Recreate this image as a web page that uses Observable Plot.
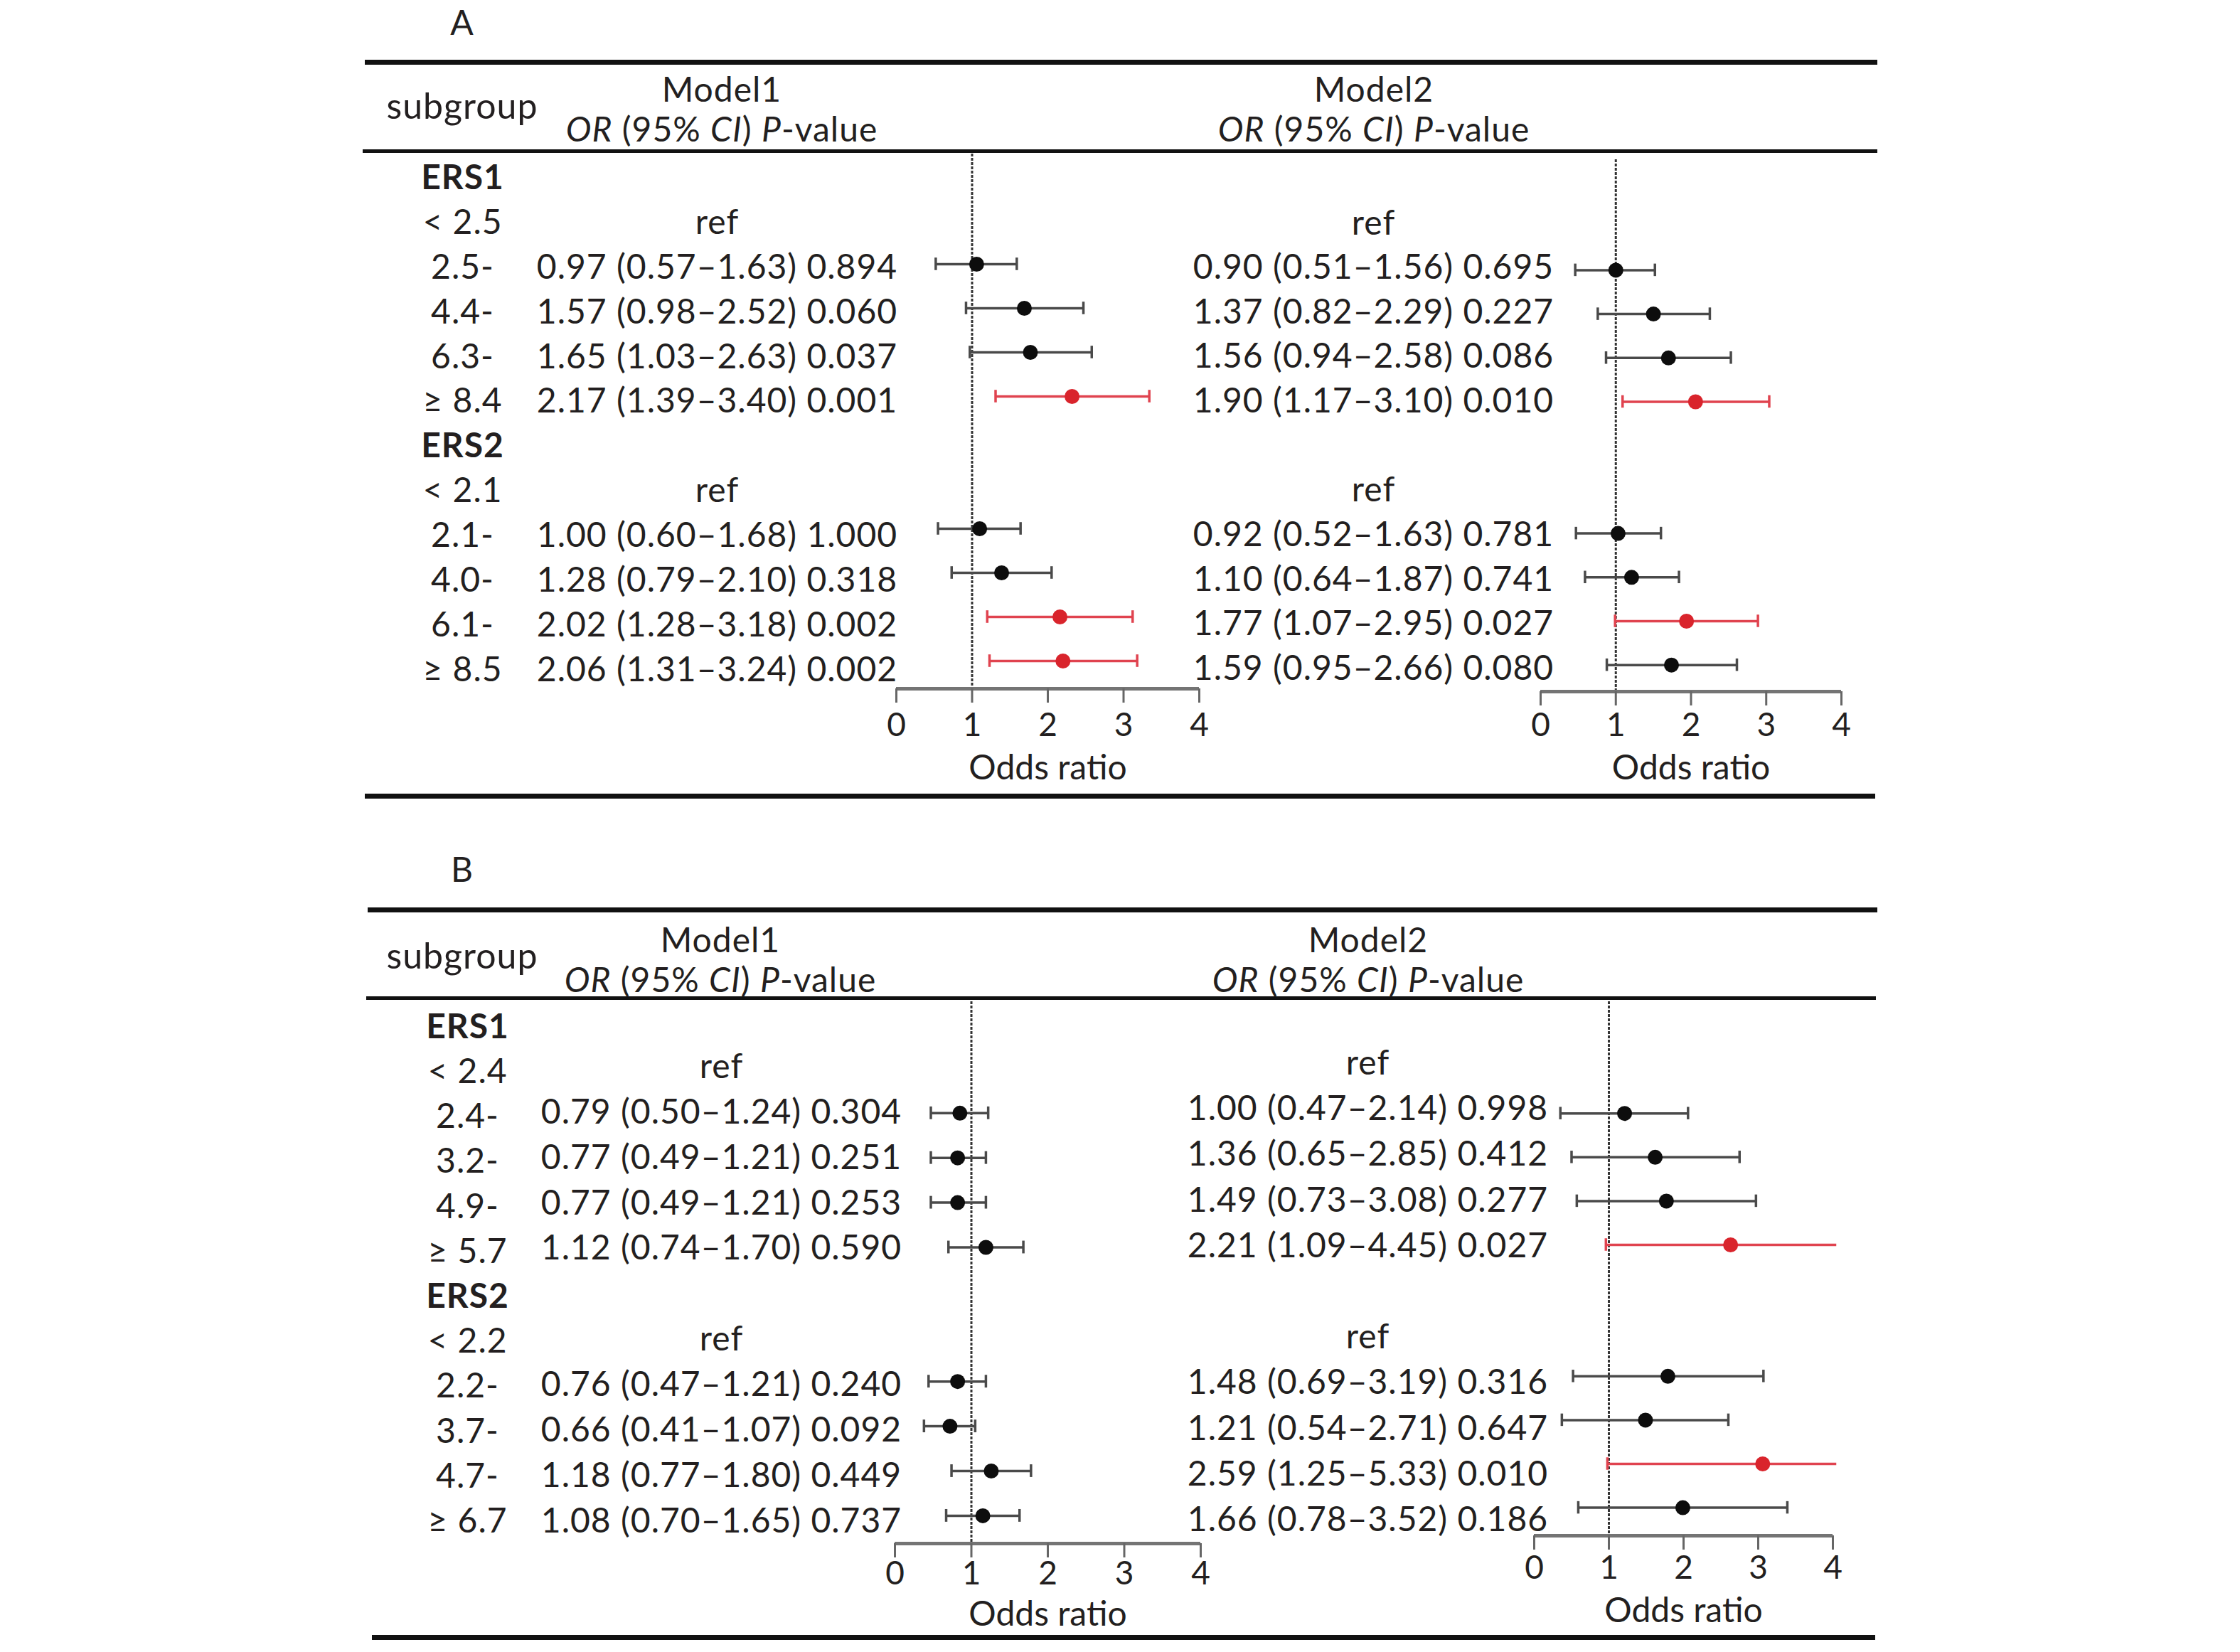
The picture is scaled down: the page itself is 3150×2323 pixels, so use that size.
<!DOCTYPE html>
<html><head><meta charset="utf-8">
<script src="https://cdn.jsdelivr.net/npm/d3@7"></script>
<script src="https://cdn.jsdelivr.net/npm/@observablehq/plot@0.6"></script>
<style>
html,body{margin:0;padding:0;background:#fff;}
#fig{position:relative;width:3150px;height:2323px;background:#fff;font-family:Lato,"Open Sans",sans-serif;color:#231f20;overflow:hidden;}
#fig svg{position:absolute;left:0;top:0;}
.t{position:absolute;transform:translate(-50%,-50%);white-space:nowrap;line-height:1.2;letter-spacing:1px;}
.rule{position:absolute;background:#111;}
</style></head><body><div id="fig"></div>
<script>
// ---------- data ----------
const subgroupsA = ["ERS1","< 2.5","2.5-","4.4-","6.3-","≥ 8.4","ERS2","< 2.1","2.1-","4.0-","6.1-","≥ 8.5"];
const subgroupsB = ["ERS1","< 2.4","2.4-","3.2-","4.9-","≥ 5.7","ERS2","< 2.2","2.2-","3.7-","4.7-","≥ 6.7"];
const headerRows = [0, 6];
const refRows = [1, 7];
const estRows = [2, 3, 4, 5, 8, 9, 10, 11];

// reported OR (95% CI) P-value
const a1OR = [0.97, 1.57, 1.65, 2.17, 1.00, 1.28, 2.02, 2.06];
const a1Lo = [0.57, 0.98, 1.03, 1.39, 0.60, 0.79, 1.28, 1.31];
const a1Hi = [1.63, 2.52, 2.63, 3.40, 1.68, 2.10, 3.18, 3.24];
const a1P  = [0.894, 0.060, 0.037, 0.001, 1.000, 0.318, 0.002, 0.002];
const a2OR = [0.90, 1.37, 1.56, 1.90, 0.92, 1.10, 1.77, 1.59];
const a2Lo = [0.51, 0.82, 0.94, 1.17, 0.52, 0.64, 1.07, 0.95];
const a2Hi = [1.56, 2.29, 2.58, 3.10, 1.63, 1.87, 2.95, 2.66];
const a2P  = [0.695, 0.227, 0.086, 0.010, 0.781, 0.741, 0.027, 0.080];
const b1OR = [0.79, 0.77, 0.77, 1.12, 0.76, 0.66, 1.18, 1.08];
const b1Lo = [0.50, 0.49, 0.49, 0.74, 0.47, 0.41, 0.77, 0.70];
const b1Hi = [1.24, 1.21, 1.21, 1.70, 1.21, 1.07, 1.80, 1.65];
const b1P  = [0.304, 0.251, 0.253, 0.590, 0.240, 0.092, 0.449, 0.737];
const b2OR = [1.00, 1.36, 1.49, 2.21, 1.48, 1.21, 2.59, 1.66];
const b2Lo = [0.47, 0.65, 0.73, 1.09, 0.69, 0.54, 1.25, 0.78];
const b2Hi = [2.14, 2.85, 3.08, 4.45, 3.19, 2.71, 5.33, 3.52];
const b2P  = [0.998, 0.412, 0.277, 0.027, 0.316, 0.647, 0.010, 0.186];

// positions of the plotted markers
const a1Est = [1.06, 1.69, 1.77, 2.32, 1.10, 1.39, 2.16, 2.20];
const a1L   = [0.52, 0.92, 0.97, 1.31, 0.55, 0.73, 1.20, 1.23];
const a1H   = [1.59, 2.47, 2.58, 3.34, 1.64, 2.05, 3.12, 3.18];
const a2Est = [1.00, 1.50, 1.70, 2.06, 1.03, 1.21, 1.94, 1.74];
const a2L   = [0.46, 0.76, 0.87, 1.09, 0.47, 0.59, 0.99, 0.88];
const a2H   = [1.52, 2.25, 2.53, 3.04, 1.60, 1.84, 2.89, 2.61];
const b1Est = [0.85, 0.82, 0.82, 1.19, 0.82, 0.72, 1.26, 1.15];
const b1L   = [0.47, 0.47, 0.47, 0.70, 0.44, 0.38, 0.74, 0.67];
const b1H   = [1.22, 1.19, 1.19, 1.68, 1.19, 1.05, 1.78, 1.63];
const b2Est = [1.21, 1.62, 1.77, 2.63, 1.79, 1.49, 3.06, 1.99];
const b2L   = [0.35, 0.50, 0.57, 0.96, 0.52, 0.37, 0.98, 0.59];
const b2H   = [2.06, 2.75, 2.97, 4.05, 3.07, 2.60, 4.05, 3.39];
// highlighted (red) rows
const a1Red = [0, 0, 0, 1, 0, 0, 1, 1];
const a2Red = [0, 0, 0, 1, 0, 0, 1, 0];
const b1Red = [0, 0, 0, 0, 0, 0, 0, 0];
const b2Red = [0, 0, 0, 1, 0, 0, 1, 0];

const xTicks = [0, 1, 2, 3, 4];

// ---------- helpers ----------
const W = 3150, H = 2323;
const FONT = "Lato, 'Open Sans', sans-serif";
const INK = "#231f20";
const fig = document.getElementById("fig");
const f2 = d3.format(".2f"), f3 = d3.format(".3f");

function label(html, x, y, size, extra = "") {
  const d = document.createElement("div");
  d.className = "t";
  d.style.cssText = `left:${x}px;top:${y}px;font-size:${size}px;${extra}`;
  d.innerHTML = html;
  fig.appendChild(d);
}
function hrule(x1, x2, y, t) {
  const d = document.createElement("div");
  d.className = "rule";
  d.style.cssText = `left:${x1}px;top:${y - t / 2}px;width:${x2 - x1}px;height:${t}px;`;
  fig.appendChild(d);
}
const orHeader = "<i>OR</i> (95% <i>CI</i>) <i>P</i>-value";

// one text column of the table, centred on `center`, rows placed by a linear row scale
function column(rows, center, yRange) {
  const half = 330;
  const svg = Plot.plot({
    width: W, height: H,
    marginLeft: center - half, marginRight: W - center - half, marginTop: 0, marginBottom: 0,
    y: {domain: [0, 11], range: yRange, axis: null},
    style: {background: "transparent", fontFamily: FONT, color: INK, overflow: "visible", letterSpacing: "1px"},
    marks: [
      Plot.text(rows.filter(d => !d.bold), {y: "row", text: "text", frameAnchor: "middle", lineAnchor: "middle", fontSize: 48, fill: INK}),
      Plot.text(rows.filter(d => d.bold), {y: "row", text: "text", frameAnchor: "middle", lineAnchor: "middle", fontSize: 48, fontWeight: "bold", fill: INK})
    ]
  });
  fig.appendChild(svg);
}
function subgroupRows(subgroups) {
  return subgroups.map((s, i) => ({row: i, text: s, bold: headerRows.includes(i)}));
}
function modelRows(or, lo, hi, p) {
  const rows = refRows.map(r => ({row: r, text: "ref", bold: false}));
  estRows.forEach((r, i) => rows.push({row: r, bold: false,
    text: `${f2(or[i])} (${f2(lo[i])}–${f2(hi[i])}) ${f3(p[i])}`}));
  return rows;
}

function forest(est, lo, hi, red, cfg) {
  const data = estRows.map((r, i) => ({row: r, est: est[i], lo: lo[i], hi: hi[i], red: !!red[i]}));
  const rowEnd = cfg.row0 + 11 * cfg.step;
  const axisRow = 11 * (cfg.axisY - cfg.row0) / (rowEnd - cfg.row0);
  const cap = 0.142;
  const GRAY = "#4a4a4a", RED = "#e0434f", DOTRED = "#d9242c";
  const black = data.filter(d => !d.red), reds = data.filter(d => d.red);
  const svg = Plot.plot({
    width: W, height: H,
    marginLeft: cfg.x0, marginRight: W - cfg.x4, marginTop: cfg.top, marginBottom: H - cfg.axisY,
    x: {domain: [0, 4]},
    y: {domain: [0, 11], range: [cfg.row0, rowEnd], axis: null},
    style: {background: "transparent", fontFamily: FONT, color: INK, overflow: "visible"},
    marks: [
      Plot.ruleX([1], {stroke: "#333", strokeWidth: 3, strokeDasharray: "4 2"}),
      Plot.ruleY([axisRow], {x1: 0, x2: 4, stroke: "#747474", strokeWidth: 5}),
      Plot.axisX({ticks: xTicks, tickFormat: d => String(d), tickSize: 20, tickPadding: cfg.pad,
        stroke: "#666", strokeWidth: 3, fill: INK, fontSize: 46, label: null}),
      Plot.text(["Odds ratio"], {x: () => 2, text: d => d, frameAnchor: "bottom", lineAnchor: "middle",
        dy: cfg.lab, fontSize: 48, fill: INK, style: "letter-spacing:1px"}),
      // error bars
      Plot.ruleY(black, {y: "row", x1: "lo", x2: "hi", stroke: GRAY, strokeWidth: 3.5}),
      Plot.ruleY(reds, {y: "row", x1: "lo", x2: "hi", stroke: RED, strokeWidth: 3.5}),
      Plot.ruleX(black, {x: "lo", y1: d => d.row - cap, y2: d => d.row + cap, stroke: GRAY, strokeWidth: 3.5}),
      Plot.ruleX(reds, {x: "lo", y1: d => d.row - cap, y2: d => d.row + cap, stroke: RED, strokeWidth: 3.5}),
      Plot.ruleX(black.filter(d => d.hi <= 4), {x: "hi", y1: d => d.row - cap, y2: d => d.row + cap, stroke: GRAY, strokeWidth: 3.5}),
      Plot.ruleX(reds.filter(d => d.hi <= 4), {x: "hi", y1: d => d.row - cap, y2: d => d.row + cap, stroke: RED, strokeWidth: 3.5}),
      // point estimates
      Plot.dot(black, {x: "est", y: "row", r: 10.5, fill: "#0d0d0d", stroke: "none"}),
      Plot.dot(reds, {x: "est", y: "row", r: 10.5, fill: DOTRED, stroke: "none"})
    ]
  });
  fig.appendChild(svg);
}

// ---------- panel A ----------
hrule(513, 2640, 87, 7);
hrule(510, 2640, 212, 5);
hrule(513, 2637, 1119, 7);
label("A", 650, 31, 48);
label("subgroup", 650, 148, 50);
label("Model1", 1015, 125, 48);
label(orHeader, 1015, 181, 48);
label("Model2", 1932, 125, 48);
label(orHeader, 1932, 181, 48);
column(subgroupRows(subgroupsA), 650, [250, 942]);
column(modelRows(a1OR, a1Lo, a1Hi, a1P), 1008, [250, 942]);
column(modelRows(a2OR, a2Lo, a2Hi, a2P), 1931, [251, 940]);
forest(a1Est, a1L, a1H, a1Red, {x0: 1260, x4: 1686, top: 216, axisY: 968, row0: 247, step: 62, pad: 14, lab: 112});
forest(a2Est, a2L, a2H, a2Red, {x0: 2166, x4: 2589, top: 224, axisY: 972, row0: 256, step: 61.7, pad: 10, lab: 108});

// ---------- panel B ----------
hrule(517, 2640, 1279, 7);
hrule(515, 2638, 1403, 5);
hrule(523, 2637, 2302, 7);
label("B", 650, 1222, 48);
label("subgroup", 650, 1343, 50);
label("Model1", 1013, 1321, 48);
label(orHeader, 1013, 1377, 48);
label("Model2", 1924, 1321, 48);
label(orHeader, 1924, 1377, 48);
column(subgroupRows(subgroupsB), 657, [1444, 2139]);
column(modelRows(b1OR, b1Lo, b1Hi, b1P), 1014, [1436, 2139]);
column(modelRows(b2OR, b2Lo, b2Hi, b2P), 1923, [1431, 2137]);
forest(b1Est, b1L, b1H, b1Red, {x0: 1258, x4: 1688, top: 1408, axisY: 2170, row0: 1439, step: 62.9, pad: 5, lab: 100});
forest(b2Est, b2L, b2H, b2Red, {x0: 2157, x4: 2577, top: 1408, axisY: 2159, row0: 1442, step: 61.6, pad: 8, lab: 106});
</script></body></html>
